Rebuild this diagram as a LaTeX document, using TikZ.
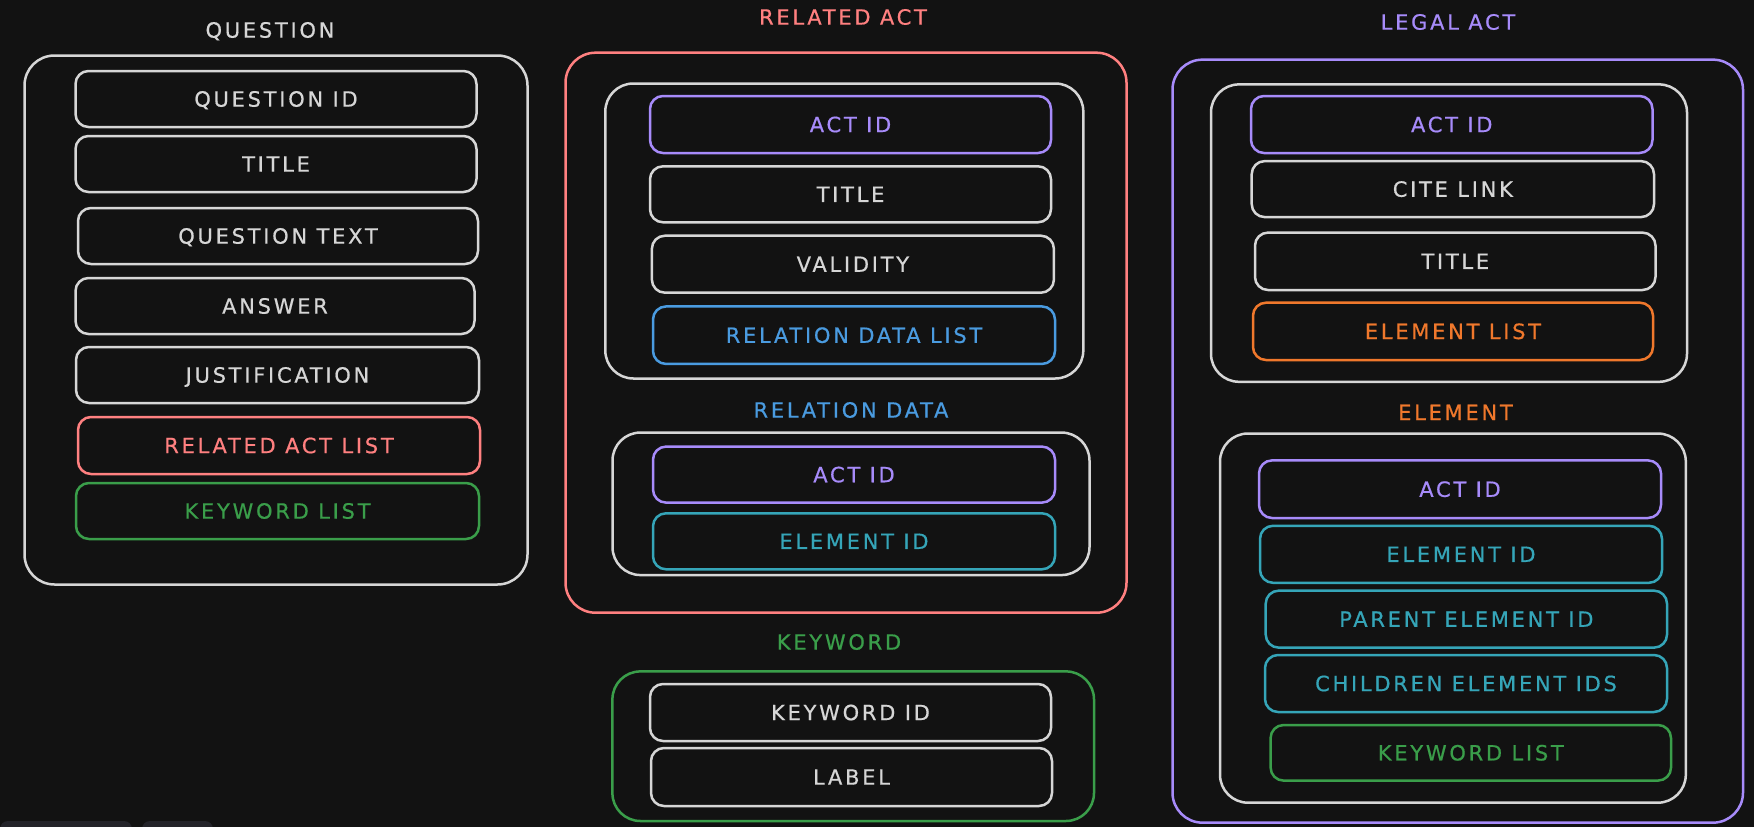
\documentclass[tikz,border=0pt]{standalone}
\usepackage{fontspec}
\setmainfont{DejaVu Sans}[LetterSpace=13,FakeBold=0.6]
\definecolor{bg}{HTML}{121212}
\definecolor{cWht}{HTML}{D6D6D6}
\definecolor{cRed}{HTML}{FF8080}
\definecolor{cPur}{HTML}{A78BFA}
\definecolor{cBlu}{HTML}{4A9BE0}
\definecolor{cTea}{HTML}{35A5B8}
\definecolor{cGrn}{HTML}{3A9E4A}
\definecolor{cOra}{HTML}{F0782C}
\definecolor{cUI}{HTML}{232329}
\newcommand\myfs{\fontsize{21pt}{24pt}\selectfont}
\tikzset{
  field/.style={draw, rounded corners=13pt, line width=2.5pt, minimum width=401pt,
    minimum height=56pt, inner sep=0pt, font=\myfs, text height=15.3pt, text depth=0pt},
  panel/.style={draw, rounded corners=30pt, line width=2.5pt, inner sep=0pt},
  ttl/.style={font=\myfs, inner sep=0pt, text height=15.3pt, text depth=0pt},
}
\begin{document}
\begin{tikzpicture}[x=1pt,y=-1pt]
\useasboundingbox (0,0) rectangle (1754,827);
\fill[bg] (0,0) rectangle (1754,827);
% UI remnants bottom-left
\fill[cUI, rounded corners=8pt] (0,821) rectangle (132,840);
\fill[cUI, rounded corners=8pt] (142,821) rectangle (213,840);

% ---------------- QUESTION ----------------
\node[ttl, cWht] (tq) at (270,30) {QUESTION};
\node[panel, draw=cWht, minimum width=503pt, minimum height=529pt] (pq) at (276,320) {};
\node[field, cWht] (qid) at (276,99) {QUESTION ID};
\node[field, cWht] (qtitle) at (276,164) {TITLE};
\node[field, cWht, minimum width=400pt] (qtext) at (278,236) {QUESTION TEXT};
\node[field, cWht, minimum width=399pt] (qans) at (275,306) {ANSWER};
\node[field, cWht, minimum width=403pt] (qjust) at (277.5,375) {JUSTIFICATION};
\node[field, cRed, minimum width=402pt, minimum height=57pt] (qrel) at (279,445.5) {RELATED ACT LIST};
\node[field, cGrn, minimum width=403pt] (qkw) at (277.5,511) {KEYWORD LIST};

% ---------------- RELATED ACT ----------------
\node[ttl, cRed] (tra) at (843,17) {RELATED ACT};
\node[panel, draw=cRed, minimum width=561pt, minimum height=560pt] (pra) at (846,332.7) {};
\node[panel, draw=cWht, rounded corners=28pt, minimum width=478pt, minimum height=295pt] (pra1) at (844.3,231) {};
\node[field, cPur, minimum height=57pt] (raact) at (850.5,124.5) {ACT ID};
\node[field, cWht] (ratitle) at (850.5,194.3) {TITLE};
\node[field, cWht, minimum width=402pt, minimum height=57pt] (raval) at (852.9,264.2) {VALIDITY};
\node[field, cBlu, minimum width=402pt, minimum height=57.5pt] (rardl) at (854,335.2) {RELATION DATA LIST};
\node[ttl, cBlu] (trd) at (851,410) {RELATION DATA};
\node[panel, draw=cWht, rounded corners=28pt, minimum width=477pt, minimum height=142.5pt] (prd) at (851,503.8) {};
\node[field, cPur, minimum width=402pt] (rdact) at (854,474.6) {ACT ID};
\node[field, cTea, minimum width=402pt] (rdel) at (854,541.3) {ELEMENT ID};

% ---------------- KEYWORD ----------------
\node[ttl, cGrn] (tkw) at (839,642) {KEYWORD};
\node[panel, draw=cGrn, rounded corners=28pt, minimum width=481.6pt, minimum height=149.6pt] (pkw) at (853.2,746.2) {};
\node[field, cWht, minimum height=57pt] (kwid) at (850.5,712.5) {KEYWORD ID};
\node[field, cWht, minimum height=58pt] (kwlab) at (851.5,777) {LABEL};

% ---------------- LEGAL ACT ----------------
\node[ttl, cPur] (tla) at (1448,22) {LEGAL ACT};
\node[panel, draw=cPur, minimum width=570.5pt, minimum height=763pt] (pla) at (1457.75,441.15) {};
\node[panel, draw=cWht, rounded corners=28pt, minimum width=476pt, minimum height=297.4pt] (pla1) at (1449,233.1) {};
\node[field, cPur, minimum width=401.5pt, minimum height=57pt] (laact) at (1451.75,124.5) {ACT ID};
\node[field, cWht, minimum width=402.3pt] (lacite) at (1452.85,189.1) {CITE LINK};
\node[field, cWht, minimum width=400.5pt, minimum height=57.4pt] (latitle) at (1455.25,261.3) {TITLE};
\node[field, cOra, minimum width=400pt, minimum height=57.3pt] (laell) at (1453,331.35) {ELEMENT LIST};
\node[ttl, cOra] (tel) at (1455.5,412.4) {ELEMENT};
\node[panel, draw=cWht, rounded corners=28pt, minimum width=465.8pt, minimum height=369.2pt] (pel) at (1452.9,618.1) {};
\node[field, cPur, minimum width=402pt, minimum height=57.6pt] (elact) at (1460,489.2) {ACT ID};
\node[field, cTea, minimum width=402pt, minimum height=57pt] (elid) at (1461,554.3) {ELEMENT ID};
\node[field, cTea, minimum width=401.3pt, minimum height=57pt] (elpar) at (1466.35,619.15) {PARENT ELEMENT ID};
\node[field, cTea, minimum width=402pt, minimum height=57pt] (elchi) at (1466,683.5) {CHILDREN ELEMENT IDS};
\node[field, cGrn, minimum width=400.4pt, minimum height=55.6pt] (elkw) at (1470.8,752.8) {KEYWORD LIST};
\end{tikzpicture}
\end{document}
